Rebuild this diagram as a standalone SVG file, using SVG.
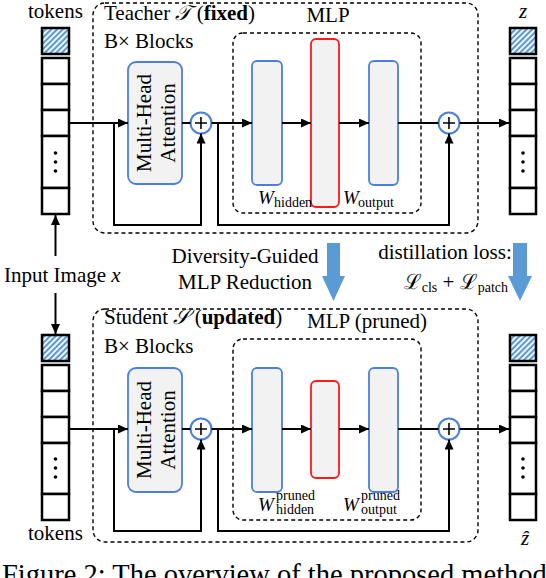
<svg xmlns="http://www.w3.org/2000/svg" width="546" height="578" viewBox="0 0 546 578">
<defs>
<marker id="ah" markerUnits="userSpaceOnUse" markerWidth="10" markerHeight="9" refX="10" refY="4.5" orient="auto">
<path d="M0,0 L10,4.5 L0,9 z" fill="#000"/>
</marker>
<pattern id="hatch" width="4" height="4" patternUnits="userSpaceOnUse" patternTransform="rotate(45)">
<rect width="4" height="4" fill="#ffffff"/>
<line x1="1" y1="0" x2="1" y2="4" stroke="#5b9bd5" stroke-width="2.4"/>
</pattern>
<style>
text{font-family:"Liberation Serif","DejaVu Serif",serif;fill:#000}
.t{font-size:21px}
.sub{font-size:14px}
.it{font-style:italic}
.b{font-weight:bold}
.dash{fill:none;stroke:#000;stroke-width:1.4;stroke-dasharray:4 3}
.tok{fill:#fff;stroke:#000;stroke-width:2.5}
.htok{fill:url(#hatch);stroke:#000;stroke-width:2.5}
.blue{fill:#f2f2f2;stroke:#4a80dc;stroke-width:1.8}
.red{fill:#f2f2f2;stroke:#ff1a1a;stroke-width:1.8}
.ln{fill:none;stroke:#000;stroke-width:2}
.ar{fill:none;stroke:#000;stroke-width:2;marker-end:url(#ah)}
.pc{fill:#fff;stroke:#4a80dc;stroke-width:2}
.pl{stroke:#000;stroke-width:1.6}
.big{fill:#5b9bd5}
</style>
</defs>

<!-- Teacher -->
<g id="teacher">
<rect class="dash" x="93" y="3" width="385" height="230" rx="12"/>
<text class="t" x="104" y="20">Teacher <tspan class="it" font-family="DejaVu Serif, serif">𝒯</tspan> (<tspan class="b">fixed</tspan>)</text>
<text class="t" x="104" y="48">B× Blocks</text>
</g>
<g id="teacher-mlp">
<rect class="dash" x="233" y="33" width="188" height="180" rx="10"/>
<text class="t" x="328" y="22" text-anchor="middle">MLP</text>
<rect class="blue" x="252" y="61" width="30" height="124" rx="5"/>
<rect class="red" x="311" y="39" width="28" height="168" rx="5"/>
<rect class="blue" x="369" y="61" width="29" height="124" rx="5"/>
<text x="258" y="204"><tspan class="it" font-size="19">W</tspan></text>
<text class="sub" x="274" y="207">hidden</text>
<text x="343" y="204"><tspan class="it" font-size="19">W</tspan></text>
<text class="sub" x="358" y="207">output</text>
</g>
<g id="teacher-mha">
<rect class="blue" x="128" y="62" width="54" height="122" rx="8"/>
<text class="t" transform="translate(155,123) rotate(-90)" text-anchor="middle"><tspan x="0" y="-4">Multi-Head</tspan><tspan x="0" y="20">Attention</tspan></text>
</g>
<g id="teacher-add1"><circle class="pc" cx="201" cy="123" r="10.5"/><path class="pl" d="M195,123 H207 M201,117 V129"/></g>
<g id="teacher-add2"><circle class="pc" cx="449" cy="123" r="10.5"/><path class="pl" d="M443,123 H455 M449,117 V129"/></g>
<g id="teacher-tokens-in">
<text class="t" x="28" y="18">tokens</text>
<rect class="htok" x="42" y="28" width="27" height="26"/>
<rect class="tok" x="42" y="58" width="27" height="26"/>
<rect class="tok" x="42" y="84" width="27" height="26"/>
<rect class="tok" x="42" y="110" width="27" height="26"/>
<rect class="tok" x="42" y="136" width="27" height="52"/>
<rect class="tok" x="42" y="188" width="27" height="26"/>
<circle cx="55.5" cy="153" r="1.8"/><circle cx="55.5" cy="162" r="1.8"/><circle cx="55.5" cy="171" r="1.8"/>
</g>
<g id="teacher-tokens-out">
<text class="t it" x="523" y="18" text-anchor="middle">z</text>
<rect class="htok" x="510" y="28" width="26" height="26"/>
<rect class="tok" x="510" y="58" width="26" height="26"/>
<rect class="tok" x="510" y="84" width="26" height="26"/>
<rect class="tok" x="510" y="110" width="26" height="26"/>
<rect class="tok" x="510" y="136" width="26" height="52"/>
<rect class="tok" x="510" y="188" width="26" height="26"/>
<circle cx="523" cy="153" r="1.8"/><circle cx="523" cy="162" r="1.8"/><circle cx="523" cy="171" r="1.8"/>
</g>

<!-- Student -->
<g id="student">
<rect class="dash" x="93" y="309" width="385" height="233" rx="12"/>
<text class="t" x="104" y="324">Student <tspan class="it" font-family="DejaVu Serif, serif">𝒮</tspan> (<tspan class="b">updated</tspan>)</text>
<text class="t" x="104" y="353">B× Blocks</text>
</g>
<g id="student-mlp">
<rect class="dash" x="233" y="339" width="188" height="181" rx="10"/>
<text class="t" x="367" y="328" text-anchor="middle">MLP (pruned)</text>
<rect class="blue" x="252" y="368" width="30" height="124" rx="5"/>
<rect class="red" x="311" y="381" width="28" height="97" rx="5"/>
<rect class="blue" x="369" y="368" width="29" height="124" rx="5"/>
<text x="258" y="511"><tspan class="it" font-size="19">W</tspan></text>
<text class="sub" x="276" y="500">pruned</text>
<text class="sub" x="276" y="514">hidden</text>
<text x="343" y="511"><tspan class="it" font-size="19">W</tspan></text>
<text class="sub" x="361" y="500">pruned</text>
<text class="sub" x="361" y="514">output</text>
</g>
<g id="student-mha">
<rect class="blue" x="128" y="368" width="54" height="124" rx="8"/>
<text class="t" transform="translate(155,430) rotate(-90)" text-anchor="middle"><tspan x="0" y="-4">Multi-Head</tspan><tspan x="0" y="20">Attention</tspan></text>
</g>
<g id="student-add1"><circle class="pc" cx="201" cy="429" r="10.5"/><path class="pl" d="M195,429 H207 M201,423 V435"/></g>
<g id="student-add2"><circle class="pc" cx="449" cy="429" r="10.5"/><path class="pl" d="M443,429 H455 M449,423 V435"/></g>
<g id="student-tokens-in">
<rect class="htok" x="42" y="335" width="27" height="26"/>
<rect class="tok" x="42" y="365" width="27" height="26"/>
<rect class="tok" x="42" y="391" width="27" height="26"/>
<rect class="tok" x="42" y="417" width="27" height="26"/>
<rect class="tok" x="42" y="443" width="27" height="51"/>
<rect class="tok" x="42" y="494" width="27" height="26"/>
<circle cx="55.5" cy="459" r="1.8"/><circle cx="55.5" cy="468" r="1.8"/><circle cx="55.5" cy="477" r="1.8"/>
<text class="t" x="28" y="540">tokens</text>
</g>
<g id="student-tokens-out">
<rect class="htok" x="510" y="335" width="26" height="26"/>
<rect class="tok" x="510" y="365" width="26" height="26"/>
<rect class="tok" x="510" y="391" width="26" height="26"/>
<rect class="tok" x="510" y="417" width="26" height="26"/>
<rect class="tok" x="510" y="443" width="26" height="51"/>
<rect class="tok" x="510" y="494" width="26" height="26"/>
<circle cx="523" cy="459" r="1.8"/><circle cx="523" cy="468" r="1.8"/><circle cx="523" cy="477" r="1.8"/>
<text class="t it" x="525" y="545" text-anchor="middle">ẑ</text>
</g>

<!-- middle -->
<g id="input">
<text class="t" x="4" y="282">Input Image <tspan class="it">x</tspan></text>
</g>
<g id="reduction">
<text class="t" x="245" y="263" text-anchor="middle">Diversity-Guided</text>
<text class="t" x="245" y="289" text-anchor="middle">MLP Reduction</text>
<path class="big" d="M327,243 H340 V276 H345 L333.5,301 L322,276 H327 z"/>
</g>
<g id="loss">
<text class="t" x="445" y="259" text-anchor="middle">distillation loss:</text>
<text class="t" x="508" y="289" text-anchor="end">ℒ<tspan class="sub" dy="3">cls</tspan><tspan dy="-3"> + ℒ</tspan><tspan class="sub" dy="3">patch</tspan></text>
<path class="big" d="M513,243 H527 V276 H532 L520,301 L508,276 H513 z"/>
</g>

<!-- connectors -->
<g id="connectors">
<path class="ar" d="M55.5,256 V215"/>
<path class="ar" d="M55.5,293 V334"/>
<path class="ar" d="M69,123 H128"/>
<path class="ar" d="M114,123 V225 H201 V133.5"/>
<path class="ln" d="M182,123 H190.5"/>
<path class="ar" d="M211.5,123 H252"/>
<path class="ar" d="M218,123 V225 H449 V133.5"/>
<path class="ar" d="M282,123 H311"/>
<path class="ar" d="M339,123 H369"/>
<path class="ln" d="M398,123 H438.5"/>
<path class="ar" d="M459.5,123 H509"/>
<path class="ar" d="M69,429 H128"/>
<path class="ar" d="M114,429 V531 H201 V439.5"/>
<path class="ln" d="M182,429 H190.5"/>
<path class="ar" d="M211.5,429 H252"/>
<path class="ar" d="M218,429 V531 H449 V439.5"/>
<path class="ar" d="M282,429 H311"/>
<path class="ar" d="M339,429 H369"/>
<path class="ln" d="M398,429 H438.5"/>
<path class="ar" d="M459.5,429 H509"/>
</g>

<text x="2" y="584" font-size="28.5">Figure 2: The overview of the proposed method</text>
</svg>
